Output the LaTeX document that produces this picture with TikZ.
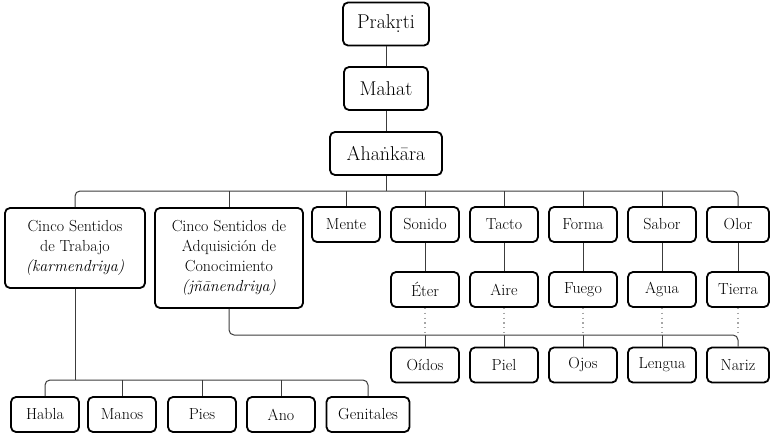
\documentclass[tikz,border=0pt]{standalone}
\usepackage{fontspec}
\usepackage{tikz}
\usetikzlibrary{positioning,calc}
\definecolor{lineclr}{RGB}{60,60,60}
\definecolor{dotclr}{RGB}{165,165,165}

\begin{document}
\begin{tikzpicture}[
  x=1pt, y=-1pt,
  font=\fontsize{16}{20}\selectfont,
  box/.style={
    draw, rounded corners=5pt, line width=1.8pt, align=center,
    inner sep=2pt, minimum height=35pt
  },
  tattva/.style={box, minimum height=43pt, font=\fontsize{20}{24}\selectfont},
  cell/.style={box, minimum width=68pt},
  conn/.style={draw=lineclr, line width=1pt, rounded corners=5pt},
  dotc/.style={draw=dotclr, line width=1.3pt, dash pattern=on 1.3pt off 3.5pt}
]
\useasboundingbox (0,0) rectangle (770,436);

% ---- Top chain ----
\node[tattva, minimum width=86pt] (prak) at (386, 24) {Prakṛti};
\node[tattva, minimum width=84pt] (mahat) at (386, 88.5) {Mahat};
\node[tattva, minimum width=112pt] (ahank) at (386, 153.5) {Ahaṅkāra};

\coordinate (bus1) at (386, 191);
\coordinate (bus2) at (425, 335);
\coordinate (bus3) at (75, 380);

% ---- First row ----
\node[box, minimum width=140pt, minimum height=80pt] (trab) at (75, 248) {%
  Cinco Sentidos\\de Trabajo\\{\itshape (karmendriya)}};
\node[box, minimum width=148pt, minimum height=100pt] (adq) at (229, 258) {%
  Cinco Sentidos de\\Adquisición de\\Conocimiento\\{\itshape (jñānendriya)}};
\node[cell] (mente) at (346, 224.5) {Mente};
\node[cell] (sonido) at (425, 224.5) {Sonido};
\node[cell] (tacto) at (504, 224.5) {Tacto};
\node[cell] (forma) at (583, 224.5) {Forma};
\node[cell] (sabor) at (662, 224.5) {Sabor};
\node[cell, minimum width=62pt] (olor) at (738, 224.5) {Olor};

% ---- Elements ----
\node[cell] (eter) at (425, 289.5) {Éter};
\node[cell] (aire) at (504, 289.5) {Aire};
\node[cell] (fuego) at (583, 289.5) {Fuego};
\node[cell] (agua) at (662, 289.5) {Agua};
\node[cell, minimum width=62pt] (tierra) at (738, 289.5) {Tierra};

% ---- Sense organs ----
\node[cell] (oidos) at (425, 365) {Oídos};
\node[cell] (piel) at (504, 365) {Piel};
\node[cell] (ojos) at (583, 365) {Ojos};
\node[cell] (lengua) at (662, 365) {Lengua};
\node[cell, minimum width=62pt] (nariz) at (738, 365) {Nariz};

% ---- Organs of action ----
\node[cell] (habla) at (45, 414.5) {Habla};
\node[cell] (manos) at (122, 414.5) {Manos};
\node[cell] (pies) at (202, 414.5) {Pies};
\node[cell] (ano) at (281, 414.5) {Ano};
\node[cell, minimum width=83pt] (genit) at (368, 414.5) {Genitales};

% ---- Connectors: chain ----
\draw[conn] (prak) -- (mahat);
\draw[conn] (mahat) -- (ahank);
\draw[conn] (ahank) -- (bus1);
\draw[conn] (trab.north) |- (bus1) -| (olor.north);
\foreach \n in {adq,mente,sonido,tacto,forma,sabor}
  \draw[conn] (\n.north) -- (\n.north |- bus1);

% ---- Connectors: elements ----
\foreach \a/\b in {sonido/eter,tacto/aire,forma/fuego,sabor/agua,olor/tierra}
  \draw[conn] (\a) -- (\b);
\foreach \a in {eter,aire,fuego,agua,tierra}
  \draw[dotc] (\a.south) -- (\a.south |- bus2);
\draw[conn] (adq.south) |- (bus2) -| (nariz.north);
\foreach \b in {oidos,piel,ojos,lengua}
  \draw[conn] (\b.north) -- (\b.north |- bus2);

% ---- Connectors: action ----
\draw[conn] (trab.south) -- (bus3);
\draw[conn] (habla.north) |- (bus3) -| (genit.north);
\foreach \b in {manos,pies,ano}
  \draw[conn] (\b.north) -- (\b.north |- bus3);

\end{tikzpicture}
\end{document}
